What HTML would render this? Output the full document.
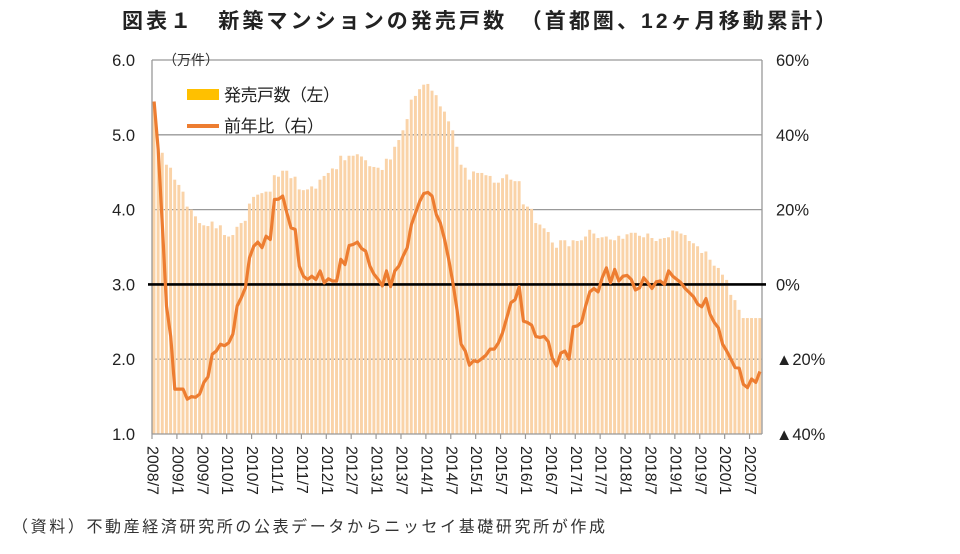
<!DOCTYPE html>
<html><head><meta charset="utf-8"><style>
body{margin:0;background:#fff;}
svg text{font-family:"Liberation Sans","Noto Sans CJK JP",sans-serif;}
</style></head><body>
<svg id="chart" width="960" height="549" viewBox="0 0 960 549" xmlns="http://www.w3.org/2000/svg">
<text x="122" y="28" font-size="21" font-weight="bold" fill="#222" textLength="714" lengthAdjust="spacing">図表１　新築マンションの発売戸数　（首都圏、12ヶ月移動累計）</text>
<g id="grid"></g>
<g id="bars"></g>
<g id="axes"></g>
<g id="line"></g>
<text x="163" y="65" font-size="14" fill="#333">（万件）</text>
<rect x="187" y="89" width="32" height="11" fill="#FFC000"/>
<text x="224" y="101" font-size="17" fill="#222" textLength="116">発売戸数（左）</text>
<line x1="187" y1="126" x2="219" y2="126" stroke="#ED7D31" stroke-width="4"/>
<text x="224" y="132" font-size="17" fill="#222" textLength="100">前年比（右）</text>
<text x="12" y="532" font-size="16" fill="#333" textLength="593">（資料）不動産経済研究所の公表データからニッセイ基礎研究所が作成</text>
</svg>
<script>
const bars=[5.42,4.8,4.76,4.6,4.56,4.4,4.33,4.24,4.04,4.0,3.91,3.82,3.79,3.78,3.84,3.75,3.79,3.66,3.64,3.66,3.77,3.82,3.85,4.08,4.17,4.2,4.22,4.24,4.24,4.46,4.44,4.52,4.52,4.42,4.44,4.27,4.26,4.27,4.31,4.28,4.4,4.45,4.49,4.55,4.54,4.72,4.66,4.72,4.72,4.74,4.71,4.66,4.58,4.57,4.56,4.53,4.68,4.67,4.84,4.93,5.06,5.21,5.47,5.52,5.61,5.67,5.68,5.59,5.53,5.38,5.31,5.18,5.06,4.84,4.6,4.56,4.4,4.51,4.49,4.49,4.46,4.45,4.36,4.36,4.42,4.47,4.4,4.38,4.38,4.07,4.04,4.01,3.82,3.8,3.75,3.7,3.56,3.49,3.59,3.59,3.51,3.59,3.58,3.59,3.64,3.73,3.68,3.62,3.63,3.64,3.6,3.59,3.65,3.61,3.67,3.69,3.69,3.65,3.63,3.68,3.62,3.58,3.61,3.62,3.63,3.72,3.71,3.68,3.66,3.58,3.55,3.51,3.42,3.44,3.33,3.25,3.22,3.13,3.06,2.86,2.79,2.66,2.55,2.55,2.55,2.55,2.55];
const yoy=[48.9,36,15.5,-5.8,-13.9,-28,-28,-28,-30.7,-30,-30.2,-29.3,-26.2,-24.7,-18.7,-17.8,-16,-16.4,-15.6,-13.3,-5.8,-3.6,-0.9,7.1,10.2,11.3,9.8,12.9,12,22.7,22.8,23.6,19.1,15.1,14.7,4.9,2.2,1.3,2.2,1.3,3.6,0.4,1.5,0.9,0.9,6.7,5.3,10.4,10.7,11.3,9.6,8.9,4.9,2.7,1.3,-0.4,3.6,-0.6,3.6,4.9,7.6,9.8,16,19.1,22.2,24.3,24.6,23.6,18.7,16.4,12,6.7,0.4,-6.7,-16,-17.8,-21.6,-20.4,-20.7,-19.8,-18.9,-17.3,-17.3,-15.6,-12.9,-8.9,-4.9,-4.1,-0.6,-9.8,-10.2,-10.9,-13.9,-14.2,-13.9,-15.3,-19.8,-21.8,-18.4,-17.8,-20,-11.3,-11.1,-10.2,-5.8,-2.0,-1.1,-2.0,1.8,4.4,0.4,4.0,0.9,2.2,2.4,1.3,-1.5,-0.9,1.8,0.4,-1.1,0.7,0.9,0,3.6,2.2,1.3,0.4,-1.1,-2.2,-3.3,-5.3,-6.0,-3.8,-8.0,-10.2,-11.6,-16,-17.8,-20,-22.2,-22.4,-26.7,-27.6,-25.3,-26.2,-23.3];
const leftTicks=["6.0","5.0","4.0","3.0","2.0","1.0"];
const leftVals=[6,5,4,3,2,1];
const rightTicks=["60%","40%","20%","0%","▲20%","▲40%"];
const xLabels=["2008/7","2009/1","2009/7","2010/1","2010/7","2011/1","2011/7","2012/1","2012/7","2013/1","2013/7","2014/1","2014/7","2015/1","2015/7","2016/1","2016/7","2017/1","2017/7","2018/1","2018/7","2019/1","2019/7","2020/1","2020/7"];
const NS="http://www.w3.org/2000/svg";
const X0=152,X1=762,Y0=434,Y1=60;
const N=Math.max(bars.length,yoy.length);
const bw=(X1-X0)/N;
function xL(i){return X0+i*bw;}
function xC(i){return X0+(i+0.5)*bw;}
function yL(v){return Y0-(v-1)*(Y0-Y1)/5;}
function yR(p){return yL(3+p/20);}
function mk(t,a,parent){const e=document.createElementNS(NS,t);for(const k in a)e.setAttribute(k,a[k]);parent.appendChild(e);return e;}
const grid=document.getElementById('grid'),bg=document.getElementById('bars'),ax=document.getElementById('axes'),lg=document.getElementById('line');
leftVals.forEach((v,i)=>{
  if(v!==3&&v!==1){const g=mk('line',{x1:X0,x2:X1,y1:yL(v),y2:yL(v),stroke:'#999','stroke-width':1.3},grid);
  
  }
  const t=mk('text',{x:135,y:yL(v)+6,'text-anchor':'end','font-size':16.5,fill:'#222'},ax);t.textContent=leftTicks[i];
  
  
  const r=mk('text',{x:776,y:yL(v)+6,'font-size':16.5,fill:'#222'},ax);r.textContent=rightTicks[i];
  
  
});
bars.forEach((v,i)=>{
  const b=mk('rect',{x:xL(i)+0.5,y:yL(v),width:bw-1.2,height:Y0-yL(v),fill:'#FAD3A8'},bg);
  
  
});
mk('line',{x1:X0,x2:X0,y1:Y1,y2:Y0,stroke:'#999','stroke-width':1.3},ax);
mk('line',{x1:X1,x2:X1,y1:Y1,y2:Y0,stroke:'#999','stroke-width':1.3},ax);
mk('line',{x1:X0,x2:X1,y1:Y0,y2:Y0,stroke:'#999','stroke-width':1.3},ax);
const z=mk('line',{x1:X0-4,x2:X1+4,y1:yL(3),y2:yL(3),stroke:'#000','stroke-width':2.6},ax);


xLabels.forEach((s,k)=>{
  const x=xL(k*6);
  mk('line',{x1:x,x2:x,y1:Y0,y2:Y0+5,stroke:'#999','stroke-width':1.2},ax);
  const t=mk('text',{x:x,y:446,'font-size':16,fill:'#222',transform:`rotate(90 ${x} 446)`,'dominant-baseline':'central'},ax);
  t.textContent=s;
  
  
});
const pts=yoy.map((p,i)=>xC(i).toFixed(1)+','+yR(p).toFixed(1)).join(' ');
const pl=mk('polyline',{points:pts,fill:'none',stroke:'#ED7D31','stroke-width':3.2,'stroke-linejoin':'round'},lg);


</script>
</body></html>
